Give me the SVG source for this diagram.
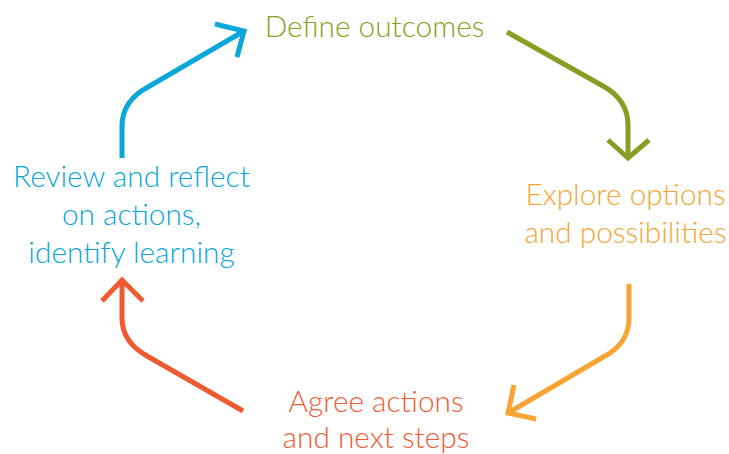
<svg xmlns="http://www.w3.org/2000/svg" width="729" height="454" viewBox="0 0 729 454">
<style>
text{font-family:Lato,"Open Sans",sans-serif;font-weight:300;font-size:29.8px;text-anchor:middle;stroke:none}
.c{fill:none;stroke-width:5;stroke-linecap:butt;stroke-linejoin:miter}
.tg{fill:#8a9c22}.to{fill:#f6a534}.tr{fill:#ee5b30}.tb{fill:#0ba6da}
.g{stroke:#8a9c22}.o{stroke:#f6a534}.r{stroke:#ee5b30}.b{stroke:#0ba6da}
</style>
<rect width="729" height="454" fill="#fff"/>
<g id="define"><text x="374.5" y="37" class="tg">Define outcomes</text></g>
<g id="explore"><text x="625.5" y="205" class="to">Explore options</text><text x="625.5" y="243" class="to">and possibilities</text></g>
<g id="agree"><text x="376" y="412" class="tr">Agree actions</text><text x="376" y="448" class="tr">and next steps</text></g>
<g id="review"><text x="131.5" y="187" class="tb">Review and reflect</text><text x="131.5" y="225" class="tb">on actions,</text><text x="131.5" y="263" class="tb">identify learning</text></g>
<g id="connectors">
<path class="c g" d="M507,32 L603,86 Q628,100 628,125 L628,158"/>
<path class="c g" d="M608,140 L628,158 L649,140"/>
<path class="c o" d="M629,284 L629,318 Q629,343 605,356 L508,413"/>
<path class="c o" d="M514,385 L508,413 L536,419"/>
<path class="c r" d="M243,411 L147,356 Q122,342 122,318 L122,280"/>
<path class="c r" d="M102,301 L122,280 L143,301"/>
<path class="c b" d="M122,158 L122,126 Q122,101 148,87 L244,31"/>
<path class="c b" d="M215,24 L244,31 L237,57"/>
</g>
</svg>
